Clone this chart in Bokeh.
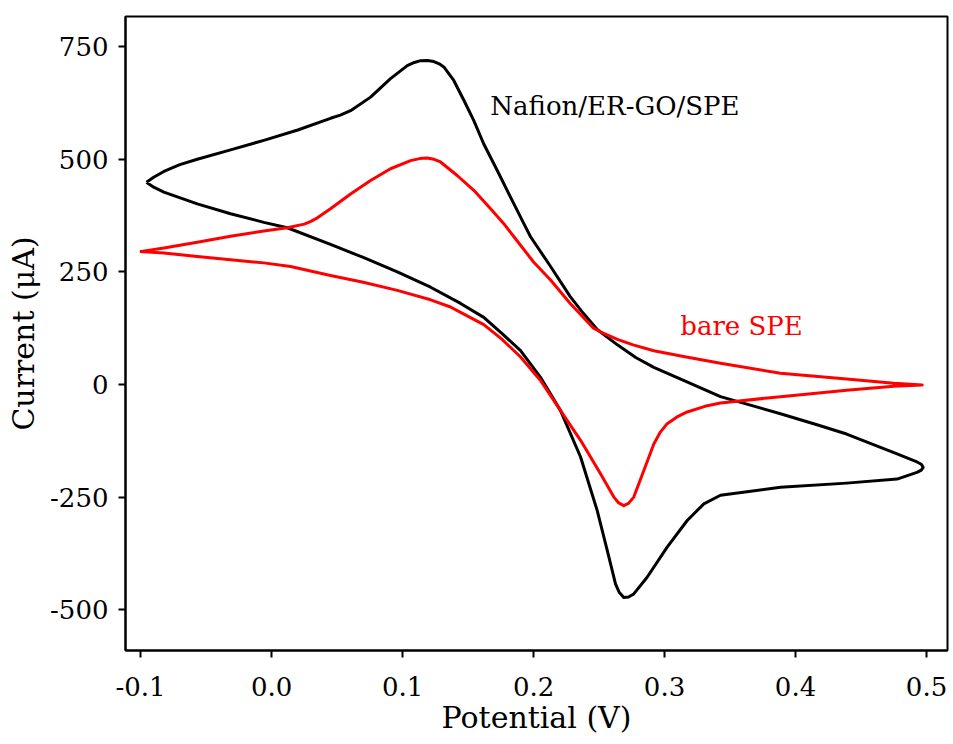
from bokeh.plotting import figure
from bokeh.models import Range1d, FixedTicker, NumeralTickFormatter, Label
from bokeh.embed import file_html
from bokeh.resources import INLINE

# Nafion/ER-GO/SPE (black) - closed CV loop (forward branch, then reverse branch)
ergo_potential = [-0.0955, -0.090, -0.0822, -0.070, -0.0567, -0.0313, -0.0059, 0.020, 0.045, 0.0525,
                  0.0603, 0.0756, 0.0908, 0.1036, 0.109, 0.1137, 0.119, 0.1239, 0.128, 0.1315,
                  0.1391, 0.1468, 0.1544, 0.162, 0.1723, 0.1824, 0.1926, 0.1977, 0.213, 0.228,
                  0.238, 0.2486, 0.264, 0.278, 0.2918, 0.3145, 0.3427, 0.3885, 0.417, 0.439,
                  0.4775, 0.4927, 0.4960, 0.4974,
                  0.4960, 0.4927, 0.4775, 0.439, 0.3885, 0.3427, 0.330, 0.3173, 0.302, 0.2867,
                  0.2765, 0.2725, 0.2689, 0.2655, 0.2626, 0.2563, 0.2486, 0.2359, 0.2206, 0.2053,
                  0.1901, 0.176, 0.162, 0.1443, 0.1214, 0.096, 0.070, 0.045, 0.012, -0.0059,
                  -0.0313, -0.0567, -0.0822, -0.090, -0.0955]
ergo_current = [449, 460, 473, 488, 500, 521, 542, 565, 591, 598,
                608, 638, 679, 708, 715, 719, 719.5, 717, 712, 705,
                675, 631, 586, 534, 475, 416, 357, 328, 262, 195,
                158, 122, 88, 60, 38, 9, -27, -65, -90, -110,
                -154, -172, -177, -184,
                -190, -195, -210, -219, -228, -246, -265, -302, -361, -428,
                -465, -472, -473, -462, -443, -369, -280, -161, -58, 16,
                75, 113, 149, 180, 216, 250, 282, 311, 348, 360,
                379, 401, 427, 438, 449]

# bare SPE (red) - closed CV loop (forward branch, then reverse branch)
bare_potential = [-0.1005, -0.0822, -0.0567, -0.0313, -0.0059, 0.012, 0.025, 0.030, 0.035, 0.045,
                  0.0603, 0.0756, 0.0908, 0.1061, 0.113, 0.1188, 0.124, 0.129, 0.1417, 0.1544,
                  0.1672, 0.1773, 0.185, 0.200, 0.213, 0.228, 0.2458, 0.251, 0.264, 0.276,
                  0.2918, 0.3145, 0.3427, 0.3885, 0.439, 0.475, 0.4967,
                  0.475, 0.439, 0.3885, 0.3427, 0.3326, 0.3173, 0.3095, 0.302, 0.2965, 0.2918,
                  0.2842, 0.2765, 0.2725, 0.2689, 0.265, 0.2613, 0.2511, 0.2359, 0.2206, 0.2053,
                  0.1901, 0.176, 0.162, 0.1443, 0.1366, 0.1214, 0.096, 0.070, 0.045, 0.0145,
                  -0.0059, -0.0313, -0.0567, -0.0822, -0.1005]
bare_current = [295, 303, 316, 329, 341, 348, 356, 362, 370, 390,
                423, 453, 479, 497, 501.5, 503, 500, 494, 464, 431,
                390, 357, 328, 272, 232, 180, 125, 117, 100, 88,
                75, 62, 47, 25, 12, 3, -1,
                -4, -13, -27, -41, -47, -61, -72, -87, -107, -132,
                -191, -250, -264, -269, -263, -250, -198, -124, -58, 9,
                61, 100, 133, 160, 172, 188, 209, 227, 242, 262,
                270, 277, 284, 292, 295]

x_ticks = [-0.1, 0.0, 0.1, 0.2, 0.3, 0.4, 0.5]
y_ticks = [-500, -250, 0, 250, 500, 750]
y_tick_labels = ["-500", "-250", "0", "250", "500", "750"]

FONT = "DejaVu Serif"

p = figure(width=950, height=744, output_backend="svg", toolbar_location=None,
           x_range=Range1d(-0.1115, 0.5160), y_range=Range1d(-590.6, 817),
           min_border_left=125, min_border_right=3, min_border_top=16, min_border_bottom=94)

p.line(ergo_potential, ergo_current, line_color="black", line_width=3, line_join="round")
p.line(bare_potential, bare_current, line_color="#ff0000", line_width=3, line_join="round")

p.add_layout(Label(x=0.167, y=619, text="Nafion/ER-GO/SPE", text_font=FONT, text_font_size="26px",
                   text_color="black", text_baseline="middle", text_align="left"))
p.add_layout(Label(x=0.312, y=129, text="bare SPE", text_font=FONT, text_font_size="26px",
                   text_color="#ff0000", text_baseline="middle", text_align="left"))

p.grid.visible = False
p.outline_line_color = "black"
p.outline_line_width = 2
p.outline_line_alpha = 1.0
p.background_fill_color = "white"
p.border_fill_color = "white"

p.xaxis.ticker = FixedTicker(ticks=x_ticks)
p.yaxis.ticker = FixedTicker(ticks=y_ticks)
p.xaxis.formatter = NumeralTickFormatter(format="0.0")
p.yaxis.major_label_overrides = {t: s for t, s in zip(y_ticks, y_tick_labels)}
p.xaxis.axis_label = "Potential (V)"
p.yaxis.axis_label = "Current (\u03bcA)"

for ax in (p.xaxis[0], p.yaxis[0]):
    ax.axis_line_color = "black"
    ax.axis_line_width = 2
    ax.major_tick_line_color = "black"
    ax.major_tick_line_width = 2
    ax.major_tick_out = 7
    ax.major_tick_in = 0
    ax.minor_tick_line_color = None
    ax.major_label_text_font = FONT
    ax.major_label_text_font_size = "26px"
    ax.major_label_text_color = "black"
    ax.axis_label_text_font = FONT
    ax.axis_label_text_font_size = "30px"
    ax.axis_label_text_font_style = "normal"
    ax.axis_label_text_color = "black"

p.xaxis.major_label_standoff = 19
p.xaxis.axis_label_standoff = 1
p.yaxis.major_label_standoff = 10
p.yaxis.axis_label_standoff = 6

open("out.html", "w").write(file_html(p, INLINE))
